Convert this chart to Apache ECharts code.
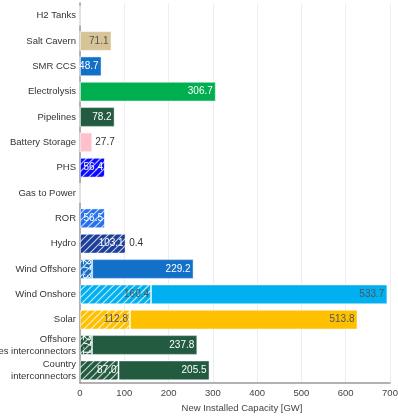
<!DOCTYPE html>
<html><head><meta charset="utf-8">
<script src="https://cdn.jsdelivr.net/npm/echarts@6/dist/echarts.min.js"></script>
<style>html,body{margin:0;padding:0;background:#fff}#c{width:398px;height:416px}</style>
</head><body><div id="c"></div>
<script>
const categories = ['H2 Tanks','Salt Cavern','SMR CCS','Electrolysis','Pipelines','Battery Storage','PHS','Gas to Power','ROR','Hydro','Wind Offshore','Wind Onshore','Solar','Offshore\nlines interconnectors','Country\ninterconnectors'];
const hatchedValues = [0,0,0,0,0,0,56.4,0,56.5,103.1,27.3,160.4,112.8,27.1,87.0];
const solidValues = [0,71.1,48.7,306.7,78.2,27.7,0,0,0,0.4,229.2,533.7,513.8,237.8,205.5];
const barColors = ['#888888','#d6c496','#1370c8','#00b050','#235b41','#ffc0cb','#0b0bff','#888888','#2571ee','#1d3f99','#1370c8','#00b0f0','#ffc000','#235b41','#235b41'];
const darkTextColors = ['#d6c496','#ffc0cb','#00b0f0','#ffc000'];
const xTicks = [0,100,200,300,400,500,600,700];

const FONT = '"Liberation Sans", Arial, sans-serif';
function hatch(color){
  const c = document.createElement('canvas');
  c.width = 7; c.height = 7;
  const g = c.getContext('2d');
  g.fillStyle = color; g.fillRect(0,0,7,7);
  g.strokeStyle = 'rgba(255,255,255,0.75)'; g.lineWidth = 1.2;
  g.beginPath();
  g.moveTo(-1,8); g.lineTo(8,-1);
  g.moveTo(-4.5,4.5); g.lineTo(4.5,-4.5);
  g.moveTo(2.5,11.5); g.lineTo(11.5,2.5);
  g.stroke();
  return {image: c, repeat: 'repeat'};
}
function txtColor(i, outside){
  if (outside) return '#333';
  return darkTextColors.indexOf(barColors[i]) >= 0 ? '#555' : '#fff';
}
const hatchedData = hatchedValues.map((v,i)=>{
  const narrow = v > 0 && v < 40;
  return {
    value: v,
    itemStyle: {color: hatch(barColors[i])},
    label: {
      show: v > 0,
      position: narrow ? 'inside' : 'insideRight',
      rotate: narrow ? -90 : 0,
      distance: 2,
      color: txtColor(i,false)
    }
  };
});
const solidData = solidValues.map((v,i)=>{
  const outside = v > 0 && v < 30;
  return {
    value: v,
    itemStyle: {color: barColors[i]},
    label: {
      show: v > 0,
      position: outside ? 'right' : 'insideRight',
      distance: 3,
      color: txtColor(i,outside)
    }
  };
});
const chart = echarts.init(document.getElementById('c'));
const labelBase = {fontFamily: FONT, fontSize: 10, formatter: p => p.value.toFixed(1)};
chart.setOption({
  animation: false,
  textStyle: {fontFamily: FONT},
  grid: {left: 80, right: 8, top: 3, bottom: 33, containLabel: false, outerBoundsMode: 'none'},
  xAxis: {
    type: 'value', min: xTicks[0], max: xTicks[xTicks.length-1], interval: 100,
    name: 'New Installed Capacity [GW]', nameLocation: 'middle', nameGap: 18,
    nameTextStyle: {fontFamily: FONT, fontSize: 9.5, color: '#444', padding: [0,0,0,14]},
    axisLine: {show: true, lineStyle: {color: '#999', width: 1.5}},
    axisTick: {show: false},
    axisLabel: {fontFamily: FONT, fontSize: 9.5, color: '#444', margin: 5},
    splitLine: {show: true, lineStyle: {color: '#eeeeee'}}
  },
  yAxis: {
    type: 'category', data: categories, inverse: true,
    axisLine: {show: true, lineStyle: {color: '#999', width: 1.5}},
    axisTick: {show: false},
    axisLabel: {fontFamily: FONT, fontSize: 9.5, color: '#333', margin: 4, lineHeight: 12, align: 'right'},
    splitLine: {show: false}
  },
  series: [
    {type: 'bar', stack: 'a', data: hatchedData, barCategoryGap: '22%',
     itemStyle: {borderColor: 'rgba(255,255,255,0.45)', borderWidth: 1},
     label: labelBase},
    {type: 'bar', stack: 'a', data: solidData, barCategoryGap: '22%',
     itemStyle: {borderColor: 'rgba(255,255,255,0.45)', borderWidth: 1},
     label: labelBase}
  ]
});
</script></body></html>
